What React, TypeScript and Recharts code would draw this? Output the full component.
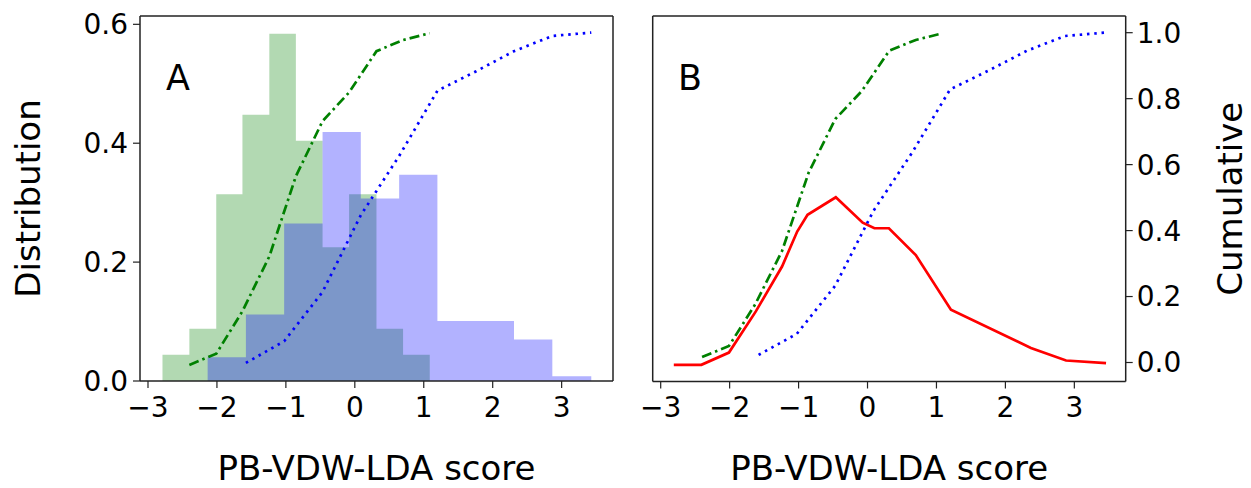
import { ComposedChart, Area, Line, XAxis, YAxis } from 'recharts';

// histogram bin edges and densities
const greenEdges = [-2.79, -2.4, -2.01, -1.63, -1.24, -0.855, -0.468, -0.083, 0.314, 0.7, 1.087];
const greenHeights = [0.044, 0.088, 0.314, 0.448, 0.584, 0.404, 0.225, 0.314, 0.088, 0.044];
const blueEdges = [-2.135, -1.58, -1.025, -0.468, 0.087, 0.643, 1.198, 1.754, 2.309, 2.865, 3.43];
const blueHeights = [0.04, 0.112, 0.265, 0.419, 0.307, 0.347, 0.101, 0.101, 0.07, 0.008];

// cumulative curves (at the right edge of each bin)
const greenCum = [0.017, 0.05, 0.176, 0.338, 0.575, 0.738, 0.823, 0.945, 0.978, 0.998];
const blueCum = [0.023, 0.087, 0.233, 0.46, 0.635, 0.828, 0.885, 0.945, 0.99, 1.0];

// red curve in panel B
const redX = [-2.81, -2.41, -2.01, -1.62, -1.24, -1.02, -0.87, -0.46, -0.07, 0.1, 0.31, 0.7, 1.21, 2.37, 2.88, 3.46];
const redY = [-0.007, -0.007, 0.03, 0.155, 0.291, 0.397, 0.448, 0.501, 0.424, 0.407, 0.407, 0.326, 0.16, 0.044, 0.006, -0.002];

const xTicks = [-3, -2, -1, 0, 1, 2, 3];
const distTicks = [0, 0.2, 0.4, 0.6];
const cumTicks = [0, 0.2, 0.4, 0.6, 0.8, 1.0];

const X_DOMAIN = [-3.116, 3.745];
const FONT = 'DejaVu Sans, sans-serif';
const SPINE = '#222';

const stepData = (edges: number[], heights: number[]) =>
  edges.map((x, i) => ({ x, y: heights[Math.min(i, heights.length - 1)] }));
const cumData = (edges: number[], vals: number[]) => vals.map((y, i) => ({ x: edges[i + 1], y }));

const greenHist = stepData(greenEdges, greenHeights);
const blueHist = stepData(blueEdges, blueHeights);
const greenLine = cumData(greenEdges, greenCum);
const blueLine = cumData(blueEdges, blueCum);
const redLine = redX.map((x, i) => ({ x, y: redY[i] }));

const fmtX = (v: number) => String(v).replace('-', '\u2212');
const fmtY = (v: number) => v.toFixed(1);

const tickStyle = { fill: '#000', fontSize: 28, fontFamily: FONT };
const labelStyle = { fill: '#000', fontSize: 34, fontFamily: FONT, textAnchor: 'middle' as const };

const green = '#008000';
const blue = '#0000ff';

function PanelA() {
  return (
    <ComposedChart width={640} height={488} margin={{ top: 15, right: 26, bottom: 0, left: 0 }}>
      <XAxis
        xAxisId="x"
        type="number"
        dataKey="x"
        domain={X_DOMAIN}
        ticks={xTicks}
        allowDataOverflow
        tickFormatter={fmtX}
        tick={tickStyle}
        tickSize={7}
        tickMargin={9}
        height={107}
        axisLine={{ stroke: SPINE, strokeWidth: 1.5 }}
        tickLine={{ stroke: SPINE, strokeWidth: 1.2 }}
        label={{ value: 'PB-VDW-LDA score', position: 'insideBottom', offset: 8, style: labelStyle }}
      />
      <XAxis
        xAxisId="top"
        orientation="top"
        type="number"
        dataKey="x"
        domain={X_DOMAIN}
        allowDataOverflow
        tick={false}
        tickLine={false}
        height={1}
        axisLine={{ stroke: SPINE, strokeWidth: 1.5 }}
      />
      <YAxis
        yAxisId="dist"
        type="number"
        domain={[0, 0.614]}
        ticks={distTicks}
        allowDataOverflow
        tickFormatter={fmtY}
        tick={tickStyle}
        tickSize={7}
        tickMargin={5}
        width={140}
        axisLine={{ stroke: SPINE, strokeWidth: 1.5 }}
        tickLine={{ stroke: SPINE, strokeWidth: 1.2 }}
        label={{ value: 'Distribution', angle: -90, position: 'insideLeft', offset: 28, style: labelStyle }}
      />
      <YAxis
        yAxisId="cum"
        orientation="right"
        type="number"
        domain={[-0.0305, 1.049]}
        allowDataOverflow
        tick={false}
        tickLine={false}
        width={1}
        axisLine={{ stroke: SPINE, strokeWidth: 1.5 }}
      />
      <Area
        data={greenHist}
        xAxisId="x"
        yAxisId="dist"
        dataKey="y"
        type="stepAfter"
        fill={green}
        fillOpacity={0.3}
        stroke="none"
        isAnimationActive={false}
      />
      <Area
        data={blueHist}
        xAxisId="x"
        yAxisId="dist"
        dataKey="y"
        type="stepAfter"
        fill={blue}
        fillOpacity={0.3}
        stroke="none"
        isAnimationActive={false}
      />
      <Line
        data={greenLine}
        xAxisId="x"
        yAxisId="cum"
        dataKey="y"
        type="linear"
        stroke={green}
        strokeWidth={2.7}
        strokeDasharray="10 4 2.5 4"
        dot={false}
        isAnimationActive={false}
      />
      <Line
        data={blueLine}
        xAxisId="x"
        yAxisId="cum"
        dataKey="y"
        type="linear"
        stroke={blue}
        strokeWidth={2.7}
        strokeDasharray="2.5 4.8"
        dot={false}
        isAnimationActive={false}
      />
      <text x={166} y={90} fontSize={35} fontFamily={FONT} fill="#000">A</text>
    </ComposedChart>
  );
}

function PanelB() {
  return (
    <ComposedChart width={611} height={488} margin={{ top: 15, right: 0, bottom: 0, left: 11.7 }}>
      <XAxis
        xAxisId="x"
        type="number"
        dataKey="x"
        domain={X_DOMAIN}
        ticks={xTicks}
        allowDataOverflow
        tickFormatter={fmtX}
        tick={tickStyle}
        tickSize={7}
        tickMargin={9}
        height={106.5}
        axisLine={{ stroke: SPINE, strokeWidth: 1.5 }}
        tickLine={{ stroke: SPINE, strokeWidth: 1.2 }}
        label={{ value: 'PB-VDW-LDA score', position: 'insideBottom', offset: 8, style: labelStyle }}
      />
      <XAxis
        xAxisId="top"
        orientation="top"
        type="number"
        dataKey="x"
        domain={X_DOMAIN}
        allowDataOverflow
        tick={false}
        tickLine={false}
        height={1}
        axisLine={{ stroke: SPINE, strokeWidth: 1.5 }}
      />
      <YAxis
        yAxisId="left"
        type="number"
        domain={[-0.0576, 1.0506]}
        allowDataOverflow
        tick={false}
        tickLine={false}
        width={1}
        axisLine={{ stroke: SPINE, strokeWidth: 1.5 }}
      />
      <YAxis
        yAxisId="cum"
        orientation="right"
        type="number"
        domain={[-0.0576, 1.0506]}
        ticks={cumTicks}
        allowDataOverflow
        tickFormatter={fmtY}
        tick={tickStyle}
        tickSize={7}
        tickMargin={4}
        width={125.3}
        axisLine={{ stroke: SPINE, strokeWidth: 1.5 }}
        tickLine={{ stroke: SPINE, strokeWidth: 1.2 }}
        label={{ value: 'Cumulative', angle: -90, position: 'insideRight', offset: 21, style: labelStyle }}
      />
      <Line
        data={redLine}
        xAxisId="x"
        yAxisId="left"
        dataKey="y"
        type="linear"
        stroke="#ff0000"
        strokeWidth={2.7}
        dot={false}
        isAnimationActive={false}
      />
      <Line
        data={greenLine}
        xAxisId="x"
        yAxisId="cum"
        dataKey="y"
        type="linear"
        stroke={green}
        strokeWidth={2.7}
        strokeDasharray="10 4 2.5 4"
        dot={false}
        isAnimationActive={false}
      />
      <Line
        data={blueLine}
        xAxisId="x"
        yAxisId="cum"
        dataKey="y"
        type="linear"
        stroke={blue}
        strokeWidth={2.7}
        strokeDasharray="2.5 4.8"
        dot={false}
        isAnimationActive={false}
      />
      <text x={38} y={90} fontSize={35} fontFamily={FONT} fill="#000">B</text>
    </ComposedChart>
  );
}

export default function App() {
  return (
    <div style={{ position: 'absolute', left: 0, top: 0, width: 1251, height: 488, background: '#fff' }}>
      <div style={{ position: 'absolute', left: 0, top: 0 }}>
        <PanelA />
      </div>
      <div style={{ position: 'absolute', left: 640, top: 0 }}>
        <PanelB />
      </div>
    </div>
  );
}
